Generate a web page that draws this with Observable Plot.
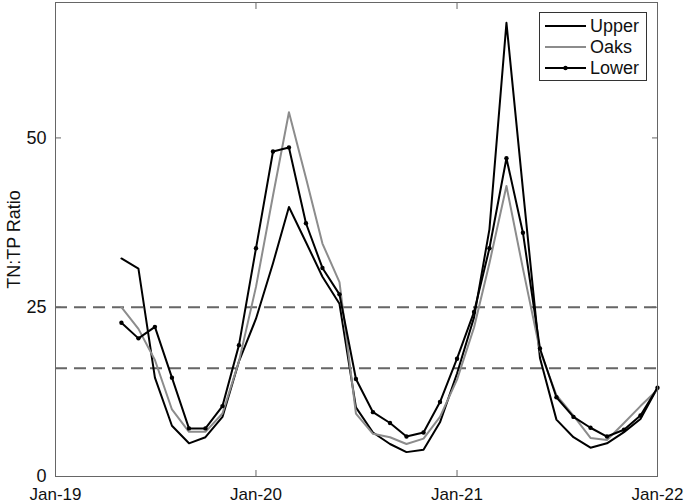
<!DOCTYPE html>
<html>
<head>
<meta charset="utf-8">
<script src="https://cdn.jsdelivr.net/npm/d3@7"></script>
<script src="https://cdn.jsdelivr.net/npm/@observablehq/plot@0.6"></script>
<style>
  html, body { margin: 0; padding: 0; background: white; }
  #wrap { position: relative; width: 685px; height: 504px; }
  #legend { position: absolute; left: 539px; top: 12px; width: 108px; height: 69px;
    border: 1px solid #333; background: white; font-family: "Liberation Sans", Arial, sans-serif;
    font-size: 18px; color: #111; box-sizing: border-box; }
  #legend .row { position: absolute; left: 0; height: 20px; }
  #legend svg { position: absolute; left: 5px; top: 0; }
  #legend span { position: absolute; left: 50px; top: 0; line-height: 20px; }
</style>
</head>
<body>
<div id="wrap"><div id="chart"></div><div id="legend"></div></div>
<script>
const months = ["2019-05","2019-06","2019-07","2019-08","2019-09","2019-10","2019-11","2019-12",
  "2020-01","2020-02","2020-03","2020-04","2020-05","2020-06","2020-07","2020-08","2020-09","2020-10","2020-11","2020-12",
  "2021-01","2021-02","2021-03","2021-04","2021-05","2021-06","2021-07","2021-08","2021-09","2021-10","2021-11","2021-12",
  "2022-01"];
const upper = [32.2, 30.7, 14.6, 7.5, 4.9, 5.8, 8.8, 17.0,
  23.3, 31.5, 39.8, 34.6, 29.5, 25.5, 10.2, 6.5, 4.8, 3.6, 3.95, 8.0,
  15.2, 23.5, 36.5, 67.0, 42.4, 17.5, 8.4, 5.8, 4.25, 4.9, 6.55, 8.5,
  13.1];
const oaks = [25.0, 21.8, 17.2, 9.9, 6.6, 6.6, 9.3, 17.0,
  28.0, 41.5, 53.8, 44.1, 34.4, 28.7, 9.3, 6.3, 5.8, 4.8, 5.6, 8.8,
  14.3, 22.0, 31.5, 42.9, 30.7, 18.6, 12.0, 9.0, 5.7, 5.4, 7.9, 10.4,
  12.8];
const lower = [22.7, 20.4, 22.1, 14.6, 7.1, 7.1, 10.4, 19.4,
  33.7, 48.0, 48.6, 37.4, 30.8, 26.9, 14.4, 9.5, 7.9, 5.9, 6.5, 11.0,
  17.4, 24.3, 33.7, 47.0, 36.0, 18.9, 11.7, 8.8, 7.2, 5.9, 6.9, 9.0,
  13.1];
const thresholds = [16, 25];
const xTickDates = ["2019-01", "2020-01", "2021-01", "2022-01"];
const xTickLabels = ["Jan-19", "Jan-20", "Jan-21", "Jan-22"];
const yTicks = [0, 25, 50];
const seriesNames = ["Upper", "Oaks", "Lower"];
const seriesColors = ["#000000", "#8c8c8c", "#000000"];

const parse = d3.utcParse("%Y-%m");
const dates = months.map(parse);
const xTicks = xTickDates.map(parse);
const mk = (vals) => vals.map((v, i) => ({date: dates[i], value: v}));
const dUpper = mk(upper), dOaks = mk(oaks), dLower = mk(lower);
const labelFor = (d) => xTickLabels[xTicks.findIndex(t => +t === +d)];

const font = "'Liberation Sans', Arial, sans-serif";
const chart = Plot.plot({
  width: 685, height: 504,
  marginLeft: 55, marginRight: 28, marginTop: 2, marginBottom: 28,
  style: {fontFamily: font, fontSize: "18px", background: "white", color: "#111"},
  x: {type: "utc", domain: [xTicks[0], xTicks[3]]},
  y: {domain: [0, 70]},
  marks: [
    Plot.ruleY(thresholds, {stroke: "#666", strokeWidth: 2, strokeDasharray: "12,7"}),
    Plot.line(dUpper, {x: "date", y: "value", stroke: seriesColors[0], strokeWidth: 2}),
    Plot.line(dOaks, {x: "date", y: "value", stroke: seriesColors[1], strokeWidth: 2}),
    Plot.line(dLower, {x: "date", y: "value", stroke: seriesColors[2], strokeWidth: 2}),
    Plot.dot(dLower, {x: "date", y: "value", r: 2.2, fill: "black"}),
    Plot.frame({stroke: "#666"}),
    Plot.axisX(xTicks, {anchor: "bottom", tickSize: -6, tickPadding: 17, tickFormat: labelFor, fontSize: 17, label: null, stroke: "#666"}),
    Plot.axisX(xTicks, {anchor: "top", tickSize: -6, tickFormat: () => "", label: null, stroke: "#666"}),
    Plot.axisY(yTicks, {anchor: "left", tickSize: -6, tickPadding: 15, fontSize: 18, label: "TN:TP Ratio", labelAnchor: "center", labelArrow: "none", labelOffset: 48, stroke: "#666"}),
    Plot.axisY(yTicks, {anchor: "right", tickSize: -6, tickFormat: () => "", label: null, stroke: "#666"})
  ]
});
document.getElementById("chart").appendChild(chart);

const legend = document.getElementById("legend");
seriesNames.forEach((name, i) => {
  const row = document.createElement("div");
  row.className = "row";
  row.style.top = (3 + i * 21) + "px";
  row.style.width = "100%";
  const marker = i === 2 ? '<circle cx="20.5" cy="10" r="2.2" fill="black"/>' : "";
  row.innerHTML = `<svg width="42" height="20"><line x1="0" x2="41" y1="10" y2="10" stroke="${seriesColors[i]}" stroke-width="2"/>${marker}</svg><span>${name}</span>`;
  legend.appendChild(row);
});
</script>
</body>
</html>
